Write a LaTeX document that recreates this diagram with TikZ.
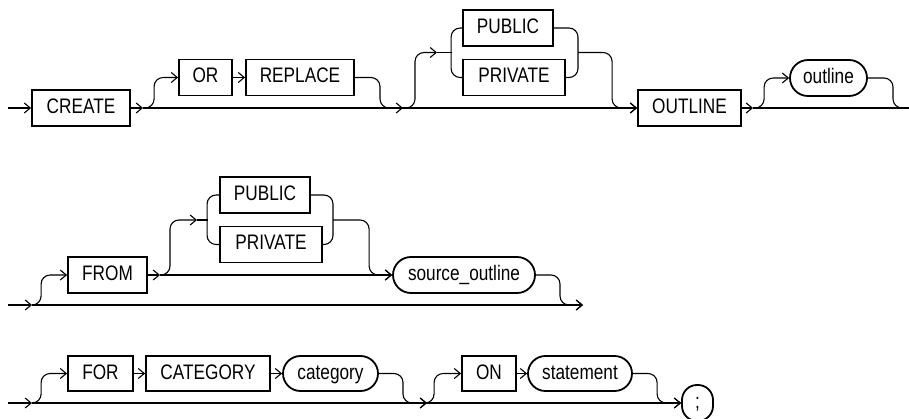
\documentclass[tikz,border=0pt]{standalone}
\usepackage{fontspec}
\setmainfont{Liberation Sans}[FakeStretch=0.82]
\usetikzlibrary{arrows.meta, shapes.misc}

\begin{document}
\begin{tikzpicture}[
    x=1pt, y=-1pt,
    kw/.style={rectangle, draw, line width=1.8pt, minimum height=36pt, inner sep=0pt, text height=15.5pt, text depth=4.5pt, font=\fontsize{21}{24}\selectfont},
    term/.style={kw, rounded rectangle},
    rail/.style={line width=1.1pt, rounded corners=9pt},
    arrow/.style={rail, -{Straight Barb[length=6pt, width=10pt]}}
]
\useasboundingbox (0,0) rectangle (909,419);

\node[kw, minimum width=98pt] (create) at (81,108) {CREATE};
\node[kw, minimum width=53pt] (or) at (205.5,77.5) {OR};
\node[kw, minimum width=108pt] (replace) at (300,77.5) {REPLACE};
\node[kw, minimum width=90pt] (pub1) at (508,28) {PUBLIC};
\node[kw, minimum width=102pt] (priv1) at (514,77.5) {PRIVATE};
\node[kw, minimum width=103pt] (outlinekw) at (689.5,108) {OUTLINE};
\node[term, minimum width=77pt] (outline) at (828.5,78) {outline};

\node[kw, minimum width=79pt] (from) at (107.5,275) {FROM};
\node[kw, minimum width=90pt] (pub2) at (265,195) {PUBLIC};
\node[kw, minimum width=102pt] (priv2) at (271,244.5) {PRIVATE};
\node[term, minimum width=142pt] (source) at (464,275) {source\_outline};

\node[kw, minimum width=65pt, minimum height=35pt] (for) at (100.5,373.5) {FOR};
\node[kw, minimum width=124pt, minimum height=35pt] (catkw) at (208,373.5) {CATEGORY};
\node[term, minimum width=95pt, minimum height=35pt] (category) at (330.5,373.5) {category};
\node[kw, minimum width=54pt, minimum height=35pt] (on) at (489,373.5) {ON};
\node[term, minimum width=104pt, minimum height=35pt] (statement) at (580,373.5) {statement};
\node[kw, rounded corners=15pt, minimum width=31pt] (semi) at (697.5,403) {;};

\coordinate (start1) at (8,108);
\coordinate (j1) at (143,108);
\coordinate (j2) at (403,108);
\coordinate (b1in) at (452,52.5);
\coordinate (b1out) at (578,52.5);
\coordinate (j3) at (753,108);
\coordinate (end1) at (909,108);

\coordinate (start2) at (8,305);
\coordinate (j4) at (32,305);
\coordinate (j5) at (160,275);
\coordinate (b2in) at (208,220);
\coordinate (b2out) at (333,220);
\coordinate (end2) at (583,305);

\coordinate (start3) at (8,403);
\coordinate (j6) at (32,403);
\coordinate (j7) at (427,403);

\draw[arrow] (start1) -- (create.west);
\draw[arrow] (create.east) -- (j1);
\draw[rail] (j1) -- (j2);
\draw[arrow] (j1) -| ([xshift=-24pt]or.west) -- (or.west);
\draw[arrow] (or) -- (replace);
\draw[arrow] (replace.east) -| ([xshift=-23pt]j2) -- (j2);
\draw[arrow] (j2) -| ([xshift=-37pt]b1in) -- ([xshift=-15pt]b1in);
\draw[rail] ([xshift=-15pt]b1in) -- (b1in);
\draw[rail] (pub1.west) -| ([xshift=-11pt]priv1.west) -- (priv1.west);
\draw[rail] (pub1.east) -| (b1out) |- (priv1.east);
\draw[arrow] (j2) -- (outlinekw.west);
\draw[arrow] (b1out) -| ([xshift=-25pt]outlinekw.west) -- (outlinekw.west);
\draw[arrow] (outlinekw.east) -- (j3);
\draw[rail] (j3) -- (end1);
\draw[arrow] (j3) -| ([xshift=-25pt]outline.west) -- (outline.west);
\draw[rail] (outline.east) -| ([xshift=-16pt]end1) -- (end1);

\draw[arrow] (start2) -- (j4);
\draw[arrow] (j4) -- (end2);
\draw[arrow] (j4) -| ([xshift=-26pt]from.west) -- (from.west);
\draw[arrow] (from.east) -- (j5);
\draw[arrow] (j5) -- (source.west);
\draw[arrow] (j5) -| ([xshift=-38pt]b2in) -- ([xshift=-11pt]b2in);
\draw[rail] ([xshift=-11pt]b2in) -- (b2in);
\draw[rail] (pub2.west) -| ([xshift=-12pt]priv2.west) -- (priv2.west);
\draw[rail] (pub2.east) -| (b2out) |- (priv2.east);
\draw[arrow] (b2out) -| ([xshift=-23pt]source.west) -- (source.west);
\draw[arrow] (source.east) -| ([xshift=-23pt]end2) -- (end2);

\draw[arrow] (start3) -- (j6);
\draw[arrow] (j6) -- (j7);
\draw[arrow] (j6) -| ([xshift=-26pt]for.west) -- (for.west);
\draw[arrow] (for) -- (catkw);
\draw[arrow] (catkw) -- (category);
\draw[arrow] (category.east) -| ([xshift=-24pt]j7) -- (j7);
\draw[arrow] (j7) -- (semi.west);
\draw[arrow] (j7) -| ([xshift=-27pt]on.west) -- (on.west);
\draw[arrow] (on) -- (statement);
\draw[arrow] (statement.east) -| ([xshift=-24pt]semi.west) -- (semi.west);
\end{tikzpicture}
\end{document}
